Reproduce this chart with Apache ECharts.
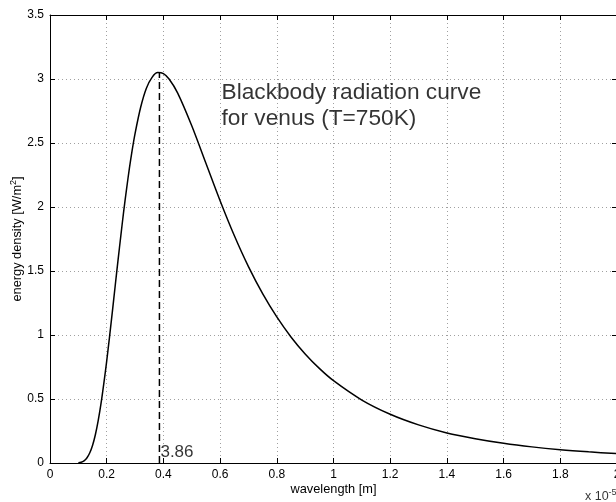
<!DOCTYPE html>
<html><head><meta charset="utf-8">
<script src="https://cdn.jsdelivr.net/npm/echarts@6/dist/echarts.min.js"></script>
<style>html,body{margin:0;padding:0;background:#fff}#c{width:616px;height:502px}</style>
</head><body><div id="c"></div>
<script>
// wavelength (x 1e-5 m)
var wavelength = [0.10,0.11,0.12,0.13,0.14,0.15,0.16,0.17,0.18,0.19,0.20,0.21,0.22,0.23,0.24,0.25,0.26,0.27,0.28,0.29,0.30,0.32,0.34,0.36,0.38,0.40,0.42,0.45,0.50,0.55,0.60,0.65,0.70,0.75,0.80,0.85,0.90,0.95,1.00,1.10,1.20,1.30,1.40,1.50,1.60,1.70,1.80,1.90,2.00];
// energy density [W/m^2]
var energy = [0.002,0.006,0.017,0.039,0.078,0.137,0.221,0.331,0.465,0.624,0.796,0.986,1.183,1.385,1.585,1.778,1.968,2.140,2.301,2.446,2.574,2.781,2.928,3.013,3.050,3.042,3.000,2.892,2.635,2.342,2.049,1.777,1.534,1.323,1.141,0.985,0.852,0.739,0.643,0.492,0.381,0.298,0.235,0.190,0.154,0.126,0.104,0.087,0.073];
var peakX = 0.386;
var peakY = 3.05;
var peakLabel = '3.86';
var titleLines = ['Blackbody radiation curve', 'for venus (T=750K)'];
var titlePos = [0.605, 2.79];
var peakLabelPos = [0.386, 0.086];
var scalePos = [1.887, -0.26];

var F = 'Liberation Sans, Arial, Helvetica, sans-serif';
var curve = wavelength.map(function (x, i) { return [x, energy[i]]; });

var chart = echarts.init(document.getElementById('c'), null, {renderer: 'canvas'});
var axisCommon = {
  type: 'value',
  axisLine: {show: true, onZero: false, lineStyle: {color: '#000', width: 1}},
  axisTick: {show: true, inside: true, length: 5, lineStyle: {color: '#000'}}
};
chart.setOption({
  animation: false,
  backgroundColor: '#fff',
  grid: {left: 50, top: 15, width: 567, height: 448, containLabel: false, outerBoundsMode: 'none'},
  xAxis: [
    Object.assign({}, axisCommon, {
      min: 0, max: 2, interval: 0.2, position: 'bottom',
      name: 'wavelength [m]', nameLocation: 'middle', nameGap: 20, nameMoveOverlap: false,
      nameTextStyle: {fontFamily: F, fontSize: 12.8, color: '#000'},
      axisLabel: {fontFamily: F, fontSize: 12, color: '#000', margin: 6, showMaxLabel: true},
      splitLine: {show: true, lineStyle: {color: '#a0a0a0', type: [1, 3], width: 1}}
    }),
    Object.assign({}, axisCommon, {
      min: 0, max: 2, interval: 0.2, position: 'top',
      axisLabel: {show: false}, splitLine: {show: false}
    })
  ],
  yAxis: [
    Object.assign({}, axisCommon, {
      min: 0, max: 3.5, interval: 0.5, position: 'left',
      name: 'energy density [W/m{s|2}]', nameLocation: 'middle', nameGap: 25, nameMoveOverlap: false,
      nameTextStyle: {fontFamily: F, fontSize: 12.8, color: '#000',
        rich: {s: {fontFamily: F, fontSize: 9, verticalAlign: 'top', padding: [0, 0, 7, 0]}}},
      axisLabel: {fontFamily: F, fontSize: 12, color: '#000', margin: 6},
      splitLine: {show: true, lineStyle: {color: '#a0a0a0', type: [1, 3], width: 1}}
    }),
    Object.assign({}, axisCommon, {
      min: 0, max: 3.5, interval: 0.5, position: 'right',
      axisLabel: {show: false}, splitLine: {show: false}
    })
  ],
  series: [
    {
      type: 'line', data: curve, smooth: 0.3, symbol: 'none',
      lineStyle: {color: '#000', width: 1.5}, z: 5
    },
    {
      type: 'line', data: [[peakX, 0], [peakX, peakY]], symbol: 'none',
      lineStyle: {color: '#000', width: 1.5, type: [7, 4]}, z: 4
    },
    {
      type: 'scatter', symbolSize: 0, clip: false, silent: true,
      data: [
        {value: peakLabelPos, label: {show: true, formatter: peakLabel, position: 'right', distance: 1,
          fontFamily: F, fontSize: 17, color: '#000'}},
        {value: titlePos, label: {show: true, formatter: titleLines.join('\n'), position: 'right', distance: 0,
          fontFamily: F, fontSize: 22.7, lineHeight: 26, color: '#000', align: 'left'}},
        {value: scalePos, label: {show: true, formatter: 'x 10{s|-5}', position: 'right', distance: 0,
          fontFamily: F, fontSize: 12.5, color: '#000',
          rich: {s: {fontFamily: F, fontSize: 9, verticalAlign: 'top', padding: [0, 0, 8, 0]}}}}
      ]
    }
  ]
});
</script></body></html>
